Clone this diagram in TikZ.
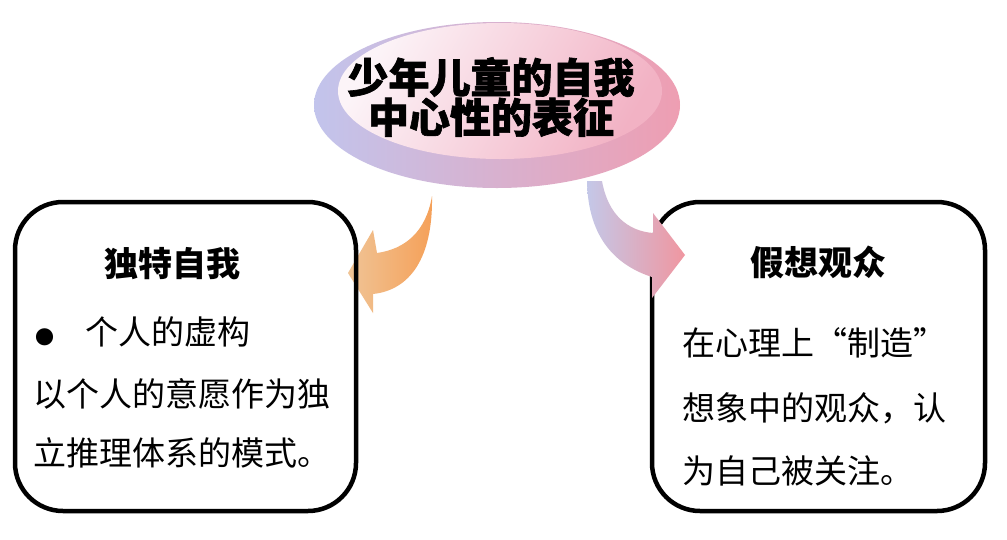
\documentclass[tikz,border=0pt]{standalone}
\usepackage{fontspec}
\setmainfont{Noto Sans CJK SC}
\newfontfamily\heavy{Noto Sans CJK SC}[BoldFeatures={FakeBold=1.6}]
\usetikzlibrary{shapes.geometric}
\definecolor{lav}{RGB}{194,196,236}
\definecolor{pinkc}{RGB}{238,158,178}
\definecolor{innerpink}{RGB}{242,178,196}
\definecolor{innerwhite}{RGB}{252,244,248}
\definecolor{ordark}{RGB}{245,160,88}
\definecolor{orlight}{RGB}{240,196,150}
\definecolor{arlav}{RGB}{196,200,232}
\definecolor{arpink}{RGB}{240,150,160}
\tikzset{
  box/.style={draw=black, line width=4.5pt, rounded corners=48pt, inner sep=0pt},
  bodytxt/.style={anchor=west, inner sep=0pt, font=\fontsize{33}{33}\selectfont},
  boxtitle/.style={inner sep=0pt, font=\fontsize{34}{34}\selectfont\bfseries},
}
\begin{document}
\begin{tikzpicture}[x=1pt,y=-1pt]
\useasboundingbox[fill=white] (0,0) rectangle (1007,539);
% top ellipse (disc)
\node[ellipse, minimum width=366pt, minimum height=166pt, inner sep=0pt,
      left color=lav, right color=pinkc] (T) at (497,105) {};
\shade[left color=innerwhite, right color=innerpink, shading angle=60]
  (500,91) ellipse [x radius=162pt, y radius=68pt];
\node[inner sep=0pt, align=center, font=\fontsize{41}{40}\selectfont\heavy\bfseries] (Tt) at (491,97)
  {少年儿童的自我\\中心性的表征};
% left arrow (under the box)
\shade[left color=orlight, right color=ordark]
  (432,196) .. controls (426,232) and (405,249) .. (377,253) -- (373,230) -- (348,273)
  -- (373,313) -- (373,294) .. controls (410,290) and (433,258) .. (432,196) -- cycle;
% left box
\node[box, minimum width=341pt, minimum height=309pt] (L) at (185.5,356.5) {};
\node[boxtitle] (Lt) at (172,264) {独特自我};
\node[bodytxt] (L1) at (35,332) {{\fontsize{19}{19}\selectfont ●}\hspace{31pt}个人的虚构};
\node[bodytxt] (L2) at (33,394) {以个人的意愿作为独};
\node[bodytxt] (L3) at (33,453) {立推理体系的模式。};
% right box
\node[box, minimum width=333pt, minimum height=309pt] (R) at (818.5,356.5) {};
\node[boxtitle] (Rt) at (818,262) {假想观众};
\node[bodytxt] (R1) at (682,343) {在心理上“制造”};
\node[bodytxt] (R2) at (682,408) {想象中的观众，认};
\node[bodytxt] (R3) at (682,471) {为自己被关注。};
% right arrow (over the box)
\shade[left color=arlav, right color=arpink]
  (587,181) -- (602,181) .. controls (608,215) and (628,231) .. (653,233) -- (653,213)
  -- (685,255) -- (652,298) -- (652,277) .. controls (618,266) and (588,240) .. (587,181) -- cycle;
\end{tikzpicture}
\end{document}
